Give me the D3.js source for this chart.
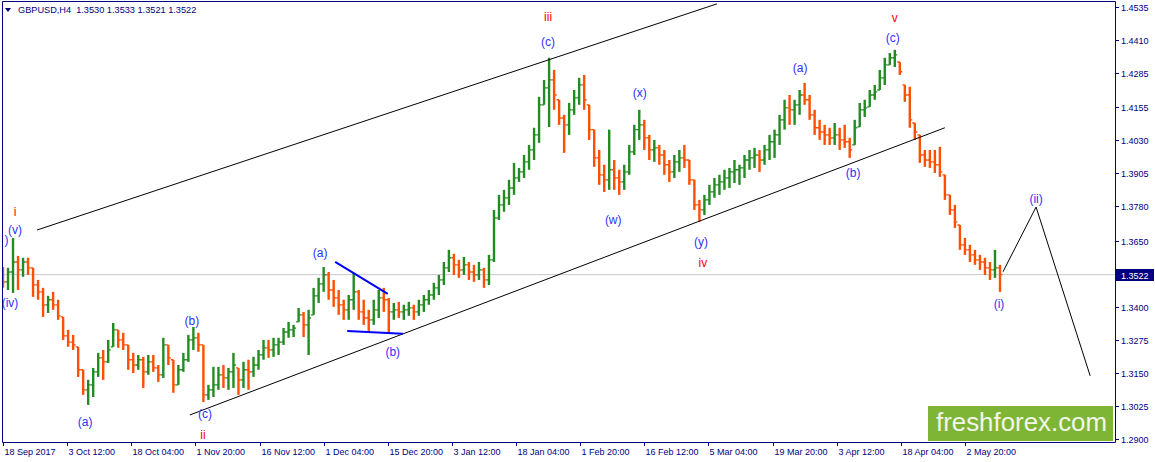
<!DOCTYPE html>
<html><head><meta charset="utf-8">
<script src="https://cdn.jsdelivr.net/npm/d3@7"></script>
<style>
body{margin:0;background:#fff;}
svg{display:block;}
text{font-family:"Liberation Sans",Arial,sans-serif;}
</style>
</head><body>
<svg id="c" width="1155" height="462"></svg>
<script>
// ---- data (each bar = aggregated H4 bars) ----
const highs=[1.3551,1.3548,1.3661,1.3593,1.3586,1.3586,1.3548,1.3502,1.3472,1.3442,
1.3457,1.3427,1.3362,1.3313,1.3294,1.3249,1.3162,1.3124,1.3169,1.3226,
1.3237,1.3275,1.3339,1.3313,1.3302,1.3256,1.3226,1.3218,1.3211,1.3218,
1.3218,1.3180,1.3283,1.3256,1.3200,1.3180,1.3226,1.3294,1.3324,1.3302,
1.3256,1.3105,1.3173,1.3173,1.3180,1.3169,1.3226,1.3169,1.3192,1.3200,
1.3211,1.3237,1.3275,1.3275,1.3283,1.3283,1.3320,1.3343,1.3332,1.3396,
1.3381,1.3389,1.3472,1.3510,1.3551,1.3532,1.3502,1.3464,1.3427,1.3445,
1.3529,1.3464,1.3427,1.3389,1.3427,1.3464,1.3472,1.3434,1.3415,1.3419,
1.3408,1.3419,1.3408,1.3427,1.3445,1.3464,1.3491,1.3521,1.3570,1.3616,
1.3601,1.3578,1.3589,1.3570,1.3559,1.3570,1.3548,1.3597,1.3767,1.3824,
1.3843,1.3881,1.3945,1.3926,1.3975,1.4013,1.4078,1.4195,1.4259,1.4343,
1.4297,1.4184,1.4127,1.4172,1.4221,1.4267,1.4278,1.4165,1.4071,1.3994,
1.3938,1.4071,1.3956,1.3919,1.3938,1.4013,1.4089,1.4146,1.4108,1.4051,
1.4032,1.4013,1.3994,1.3956,1.3975,1.3994,1.4013,1.3956,1.3881,1.3805,
1.3824,1.3862,1.3888,1.3900,1.3919,1.3926,1.3956,1.3938,1.3975,1.3994,
1.4002,1.3994,1.4013,1.4051,1.4071,1.4127,1.4184,1.4202,1.4184,1.4221,
1.4248,1.4202,1.4146,1.4108,1.4089,1.4078,1.4096,1.4078,1.4089,1.4040,
1.4108,1.4172,1.4184,1.4221,1.4240,1.4297,1.4343,1.4361,1.4373,1.4327,
1.4240,1.4233,1.4096,1.4051,1.3994,1.3994,1.3994,1.4006,1.3900,1.3824,
1.3786,1.3710,1.3661,1.3635,1.3616,1.3597,1.3586,1.3570,1.3616,1.3559];
const lows=[1.3472,1.3464,1.3453,1.3464,1.3514,1.3521,1.3438,1.3427,1.3362,1.3377,
1.3389,1.3351,1.3275,1.3249,1.3237,1.3135,1.3067,1.3029,1.3059,1.3135,
1.3124,1.3188,1.3249,1.3245,1.3237,1.3162,1.3150,1.3162,1.3093,1.3143,
1.3154,1.3116,1.3131,1.3180,1.3075,1.3105,1.3154,1.3192,1.3237,1.3230,
1.3040,1.3048,1.3059,1.3086,1.3093,1.3086,1.3093,1.3067,1.3093,1.3086,
1.3135,1.3162,1.3200,1.3207,1.3211,1.3218,1.3256,1.3283,1.3286,1.3343,
1.3286,1.3218,1.3370,1.3415,1.3457,1.3427,1.3400,1.3370,1.3351,1.3351,
1.3389,1.3351,1.3332,1.3305,1.3332,1.3358,1.3381,1.3302,1.3351,1.3358,
1.3351,1.3366,1.3351,1.3366,1.3381,1.3408,1.3427,1.3445,1.3483,1.3532,
1.3521,1.3510,1.3521,1.3502,1.3495,1.3502,1.3472,1.3483,1.3570,1.3729,
1.3760,1.3786,1.3824,1.3873,1.3888,1.3919,1.3956,1.4021,1.4165,1.4081,
1.4146,1.4089,1.3983,1.4051,1.4127,1.4165,1.4146,1.4032,1.3930,1.3862,
1.3835,1.3843,1.3843,1.3824,1.3843,1.3900,1.3975,1.4032,1.3994,1.3956,
1.3949,1.3938,1.3900,1.3873,1.3888,1.3911,1.3926,1.3862,1.3767,1.3722,
1.3748,1.3786,1.3813,1.3824,1.3843,1.3850,1.3869,1.3862,1.3888,1.3919,
1.3926,1.3911,1.3938,1.3956,1.3964,1.4013,1.4071,1.4089,1.4089,1.4127,
1.4165,1.4108,1.4051,1.4032,1.4013,1.4013,1.4013,1.3994,1.4002,1.3964,
1.4013,1.4081,1.4119,1.4157,1.4184,1.4221,1.4240,1.4316,1.4308,1.4278,
1.4176,1.4078,1.4032,1.3945,1.3930,1.3926,1.3907,1.3892,1.3805,1.3748,
1.3699,1.3616,1.3597,1.3570,1.3559,1.3540,1.3521,1.3502,1.3510,1.3457];
const closes=[1.3495,1.3532,1.3570,1.3540,1.3570,1.3548,1.3483,1.3457,1.3408,1.3427,
1.3408,1.3366,1.3290,1.3267,1.3256,1.3162,1.3086,1.3105,1.3154,1.3207,
1.3192,1.3237,1.3313,1.3275,1.3256,1.3200,1.3180,1.3200,1.3154,1.3192,
1.3169,1.3143,1.3256,1.3207,1.3105,1.3162,1.3200,1.3275,1.3283,1.3256,
1.3067,1.3086,1.3105,1.3143,1.3131,1.3154,1.3180,1.3124,1.3162,1.3154,
1.3180,1.3218,1.3245,1.3237,1.3256,1.3267,1.3305,1.3313,1.3320,1.3370,
1.3332,1.3358,1.3442,1.3487,1.3521,1.3464,1.3434,1.3408,1.3389,1.3427,
1.3457,1.3381,1.3358,1.3351,1.3389,1.3434,1.3427,1.3381,1.3389,1.3381,
1.3389,1.3396,1.3381,1.3408,1.3427,1.3445,1.3472,1.3502,1.3548,1.3586,
1.3559,1.3540,1.3559,1.3532,1.3521,1.3540,1.3502,1.3578,1.3737,1.3786,
1.3813,1.3850,1.3888,1.3911,1.3949,1.3994,1.4051,1.4165,1.4229,1.4259,
1.4202,1.4115,1.4089,1.4146,1.4191,1.4240,1.4184,1.4071,1.3964,1.3900,
1.3881,1.3919,1.3888,1.3873,1.3911,1.3987,1.4071,1.4089,1.4040,1.3994,
1.4002,1.3975,1.3938,1.3911,1.3949,1.3964,1.3956,1.3881,1.3786,1.3767,
1.3805,1.3835,1.3862,1.3873,1.3888,1.3911,1.3919,1.3926,1.3956,1.3964,
1.3975,1.3956,1.3994,1.4025,1.4051,1.4108,1.4153,1.4146,1.4165,1.4202,
1.4184,1.4127,1.4078,1.4062,1.4051,1.4040,1.4051,1.4032,1.4025,1.3994,
1.4078,1.4146,1.4153,1.4202,1.4214,1.4267,1.4316,1.4343,1.4354,1.4290,
1.4202,1.4108,1.4062,1.3975,1.3956,1.3949,1.3938,1.3911,1.3824,1.3767,
1.3722,1.3635,1.3616,1.3597,1.3578,1.3570,1.3548,1.3540,1.3548,1.3522];
const firstOpen=1.3510;
const timeLabels=["18 Sep 2017","3 Oct 12:00","18 Oct 04:00","1 Nov 20:00","16 Nov 12:00","1 Dec 04:00","15 Dec 20:00","3 Jan 12:00","18 Jan 04:00","1 Feb 20:00","16 Feb 12:00","5 Mar 04:00","19 Mar 20:00","3 Apr 12:00","18 Apr 04:00","2 May 20:00"];
const barsPerLabel=12.8;
const priceTicks=[1.4535,1.4410,1.4285,1.4155,1.4030,1.3905,1.3780,1.3650,1.3400,1.3275,1.3150,1.3025,1.2900];
const lastPrice=1.3522;
const header="GBPUSD,H4  1.3530 1.3533 1.3521 1.3522";
// wave labels: text, bar index, price, degree (major=red / minor=blue)
// first entry is the visible tail of a "(iii)" label cut by the left edge in the original
const waveText =[")","i","(v)","(iv)","(a)","(b)","(c)","ii","(a)","(b)","iii","(c)","(w)","(x)","(y)","iv","(a)","(b)","v","(c)","(i)","(ii)"];
const waveIdx  =[0.3,2.4,2.4,1.4,16.4,37.7,40.3,39.9,63.3,77.8,108.8,108.8,121.8,127.1,139.3,139.7,159.1,169.7,178.0,177.6,198.8,206.2];
const wavePrice=[1.3654,1.3760,1.3691,1.3415,1.2965,1.3347,1.2995,1.2916,1.3604,1.3230,1.4498,1.4403,1.3729,1.4210,1.3646,1.3567,1.4305,1.3907,1.4494,1.4418,1.3411,1.3809];
const waveMajor=[0,1,0,0,0,0,0,1,0,0,1,0,0,0,0,1,0,0,1,0,0,0];
const channelUpper=[[6.8,1.3691],[142.5,1.4547]];
const channelLower=[[37.3,1.2991],[188.0,1.4078]];
const projection=[[199.6,1.3533],[206.2,1.3778],[217.0,1.3139]];
const triUpper=[[66.3,1.3570],[76.8,1.3449]];
const triLower=[[68.7,1.3309],[79.8,1.3298]];

// ---- drawing ----
const svg=d3.select("#c");
const L=3,R=1115,T=2,B=442;
const navy="#000080";
const x=d3.scaleLinear().domain([0,199]).range([3,1000]);
const y=d3.scaleLinear().domain([1.28886,1.45616]).range([B,0]);

svg.append("rect").attr("width",1155).attr("height",462).attr("fill","#fff");
svg.append("defs").append("clipPath").attr("id","clip").append("rect")
  .attr("x",L).attr("y",T).attr("width",R-L).attr("height",B-T);
const plot=svg.append("g").attr("clip-path","url(#clip)");

// bid line
plot.append("line").attr("x1",L).attr("x2",R).attr("y1",y(lastPrice)).attr("y2",y(lastPrice))
  .attr("stroke","#c8c8c8").attr("stroke-width",1);

// bars
const bars=closes.map((c,i)=>{
  const h=highs[i],l=lows[i];
  let o=i?closes[i-1]:firstOpen; o=Math.min(h,Math.max(l,o));
  return {i,h,l,o,c};
});
const col=d=>d.c>d.o?"#228b22":(d.c<d.o?"#ff4f00":"#000");
const bg=plot.append("g");
bg.selectAll("path.v").data(bars).join("path").attr("class","v")
  .attr("d",d=>{const X=x(d.i);return `M${X},${y(d.h)}V${y(d.l)}`;})
  .attr("stroke",col).attr("stroke-width",2.4).attr("fill","none");
bg.selectAll("path.t").data(bars).join("path").attr("class","t")
  .attr("d",d=>{const X=x(d.i);return `M${X-2.5},${y(d.o)}H${X}M${X},${y(d.c)}H${X+2.5}`;})
  .attr("stroke",col).attr("stroke-width",1.3).attr("fill","none");

// lines
const line=d3.line().x(d=>x(d[0])).y(d=>y(d[1]));
[channelUpper,channelLower,projection].forEach(p=>plot.append("path").attr("d",line(p))
  .attr("stroke","#000").attr("stroke-width",1).attr("fill","none"));
[triUpper,triLower].forEach(p=>plot.append("path").attr("d",line(p))
  .attr("stroke","#0000ff").attr("stroke-width",2).attr("fill","none"));

// wave labels
svg.selectAll("text.w").data(waveText).join("text").attr("class","w")
  .attr("x",(d,k)=>x(waveIdx[k])).attr("y",(d,k)=>y(wavePrice[k])+4)
  .attr("text-anchor",(d,k)=>k===0?"start":"middle")
  .attr("font-size",12).attr("fill",(d,k)=>waveMajor[k]?"#ff0000":"#3030ff")
  .text(d=>d);

// frame
svg.append("path").attr("d",`M${L-0.5},${B+0.5}V${T-0.5}H${R+0.5}V${B+0.5}H${L-0.5}`)
  .attr("stroke",navy).attr("fill","none").attr("stroke-width",1);

// y axis
const ya=svg.append("g");
priceTicks.forEach(p=>{
  const Y=Math.round(y(p))+0.5;
  ya.append("line").attr("x1",R).attr("x2",R+4).attr("y1",Y).attr("y2",Y).attr("stroke",navy);
  ya.append("text").attr("x",R+6).attr("y",Y+3.5).attr("font-size",9).attr("fill",navy).text(p.toFixed(4));
});
const yl=Math.round(y(lastPrice));
ya.append("rect").attr("x",R+1).attr("y",yl-6).attr("width",38).attr("height",12).attr("fill",navy);
ya.append("text").attr("x",R+6).attr("y",yl+3.5).attr("font-size",9).attr("fill","#fff").text(lastPrice.toFixed(4));

// x axis
const xa=svg.append("g");
timeLabels.forEach((t,k)=>{
  const X=Math.round(x(k*barsPerLabel))+0.5;
  xa.append("line").attr("x1",X).attr("x2",X).attr("y1",B).attr("y2",B+4).attr("stroke",navy);
  xa.append("text").attr("x",X+1).attr("y",B+13).attr("font-size",9).attr("fill",navy).text(t);
});

// header
svg.append("path").attr("d","M5,8H11L8,12Z").attr("fill",navy);
svg.append("text").attr("x",18).attr("y",13).attr("font-size",9.2).attr("fill",navy)
  .style("white-space","pre").text(header);

// logo
svg.append("rect").attr("x",928).attr("y",406).attr("width",185).attr("height",35).attr("fill","#7fb534");
svg.append("text").attr("x",936).attr("y",431).attr("font-size",25)
  .attr("font-family","'Open Sans',sans-serif").attr("fill","#f2f6ea")
  .attr("textLength",171).attr("lengthAdjust","spacingAndGlyphs").text("freshforex.com");
</script>
</body></html>
